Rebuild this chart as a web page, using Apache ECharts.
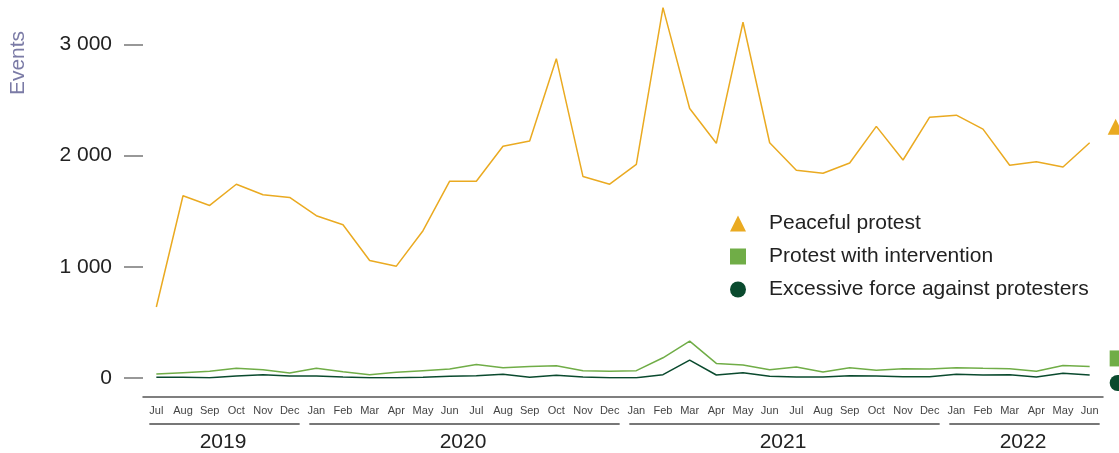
<!DOCTYPE html>
<html>
<head>
<meta charset="utf-8">
<script src="https://cdn.jsdelivr.net/npm/echarts@6/dist/echarts.min.js"></script>
<style>
html,body{margin:0;padding:0;background:#fff;}
#chart{width:1119px;height:453px;}
</style>
</head>
<body>
<div id="chart"></div>
<script>
const months = ['Jul','Aug','Sep','Oct','Nov','Dec',
  'Jan','Feb','Mar','Apr','May','Jun','Jul','Aug','Sep','Oct','Nov','Dec',
  'Jan','Feb','Mar','Apr','May','Jun','Jul','Aug','Sep','Oct','Nov','Dec',
  'Jan','Feb','Mar','Apr','May','Jun'];
const yearLabels = ['2019','2020','2021','2022'];
const yearSpans = [6, 12, 12, 6];
const yTicks = [0, 1000, 2000, 3000];
const seriesNames = ['Peaceful protest','Protest with intervention','Excessive force against protesters'];

const peaceful = [639,1639,1552,1743,1648,1624,
  1460,1379,1057,1006,1325,1770,1770,2084,2131,2872,1812,1743,
  1922,3331,2424,2111,3200,2116,1869,1842,1934,2263,1961,2346,
  2364,2239,1914,1946,1898,2116];
const intervention = [36,48,60,87,75,45,
  87,57,30,51,66,81,122,93,104,110,66,60,
  66,182,331,131,116,75,98,54,93,69,84,81,
  93,87,84,60,113,104];
const excessive = [6,6,3,18,30,18,
  18,9,2,3,6,15,21,33,6,24,9,3,
  3,30,161,27,48,15,9,9,21,18,12,12,
  33,27,30,9,42,27];

const colors = ['#EAAA21', '#70AD47', '#0A4A2E'];
const symbols = ['triangle', 'rect', 'circle'];
const endOffsets = [[26,-16],[28,-8],[28,8]];
const FONT = 'Liberation Sans, Arial, sans-serif';

function fmt(v){ return String(v).replace(/\B(?=(\d{3})+(?!\d))/g, ' '); }

const chart = echarts.init(document.getElementById('chart'), null, {renderer:'canvas'});
const datasets = [peaceful, intervention, excessive];

const option = {
  animation: false,
  backgroundColor: '#fff',
  grid: {left: 143, right: 16, top: -2, bottom: 75, containLabel: false},
  legend: {
    orient: 'vertical',
    left: 725,
    top: 208,
    itemWidth: 16,
    itemHeight: 16,
    itemGap: 12,
    selectedMode: false,
    textStyle: {fontFamily: FONT, fontSize: 21, color: '#222', lineHeight: 21, padding: [0,0,0,18]},
    data: seriesNames.map((n,i)=>({name:n, icon:symbols[i], itemStyle:{color:colors[i]}}))
  },
  xAxis: {
    type: 'category',
    data: months,
    boundaryGap: true,
    offset: 19,
    axisLine: {show: true, onZero: false, lineStyle: {color: '#555', width: 1.5}},
    axisTick: {show: false},
    axisLabel: {interval: 0, fontFamily: FONT, fontSize: 11, color: '#444', margin: 8},
    splitLine: {show: false}
  },
  yAxis: {
    type: 'value',
    min: 0,
    max: 3400,
    interval: 1000,
    axisLine: {show: false},
    axisTick: {show: true, length: 19, customValues: yTicks, lineStyle: {color: '#777', width: 1.5}},
    axisLabel: {customValues: yTicks, formatter: fmt, fontFamily: FONT, fontSize: 21, color: '#222', margin: 31},
    splitLine: {show: false}
  },
  series: datasets.map((d,i)=>({
    name: seriesNames[i],
    type: 'line',
    data: d,
    showSymbol: false,
    symbol: symbols[i],
    color: colors[i],
    lineStyle: {color: colors[i], width: 1.5},
    itemStyle: {color: colors[i]},
    z: 3 - i,
    markPoint: {
      silent: true,
      label: {show: false},
      data: [{coord: [d.length - 1, d[d.length - 1]], symbol: symbols[i], symbolSize: 16,
              symbolOffset: endOffsets[i], itemStyle: {color: colors[i]}}]
    }
  }))
};
chart.setOption(option);

// year group lines and labels derived from the category axis
const graphics = [];
let start = 0;
yearLabels.forEach((lbl, k)=>{
  const end = start + yearSpans[k] - 1;
  const x0 = chart.convertToPixel({xAxisIndex:0}, start);
  const x1 = chart.convertToPixel({xAxisIndex:0}, end);
  graphics.push({type:'line', shape:{x1:x0-7, y1:424, x2:x1+10, y2:424},
    style:{stroke:'#777', lineWidth:2}, silent:true});
  graphics.push({type:'text', x:(x0+x1)/2, y:442,
    style:{text:lbl, fill:'#222', font:'21px ' + FONT, align:'center', verticalAlign:'middle'}, silent:true});
  start = end + 1;
});
graphics.push({type:'text', x:18, y:63, rotation: Math.PI/2,
  style:{text:'Events', fill:'#7B7BA6', font:'21px ' + FONT, align:'center', verticalAlign:'middle'}, silent:true});
chart.setOption({graphic: graphics});
</script>
</body>
</html>
